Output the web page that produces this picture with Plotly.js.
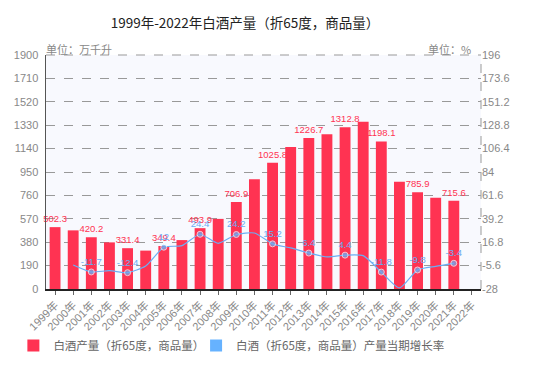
<!DOCTYPE html>
<html><head><meta charset="utf-8">
<script src="https://cdn.plot.ly/plotly-3.0.1.min.js"></script>
<style>body{margin:0;background:#fff}#c{width:553px;height:368px}</style>
</head><body><div id="c"></div>
<script>
const years = ['1999年','2000年','2001年','2002年','2003年','2004年','2005年','2006年','2007年','2008年','2009年','2010年','2011年','2012年','2013年','2014年','2015年','2016年','2017年','2018年','2019年','2020年','2021年','2022年'];
const barYears = years.slice(0, 23);
const production = [502.3,476.1,420.2,378.5,331.4,311.7,349.4,397.1,493.9,569.3,706.9,890.8,1025.8,1153.2,1226.7,1257.1,1312.8,1358.4,1198.1,871.2,785.9,740.7,715.6];
const growthYears = years.slice(1, 23);
const growth = [-5.0,-11.7,-10.4,-12.4,-6.0,12.0,13.5,24.4,15.7,24.2,25.6,15.2,11.3,6.4,2.7,4.4,3.9,-11.8,-27.0,-9.8,-6.3,-3.4];
const leftTicks = [0,190,380,570,760,950,1140,1330,1520,1710,1900];
const rightTicks = ['-28','-5.6','16.8','39.2','61.6','84','106.4','128.8','151.2','173.6','196'];

const FONT = 'Liberation Sans, Noto Sans CJK SC, sans-serif';
const CJK = 'Noto Sans CJK SC, sans-serif';
const RED = '#ff3352', BLUE = '#6aaef5';

const barText = production.map((v,i)=> i%2===0 ? String(v) : '');
const lineText = growth.map((v,i)=> i%2===1 ? String(v) : '');
const lineMarker = growth.map((v,i)=> i%2===1 ? 6 : 0);

const traces = [
  {type:'bar', x:barYears, y:production, name:'白酒产量（折65度，商品量）', showlegend:false,
   marker:{color:RED}, text:barText, textposition:'outside', constraintext:'none', cliponaxis:false,
   textfont:{color:RED, size:9.5, family:FONT}, hoverinfo:'x+y'},
  {type:'scatter', mode:'lines+markers+text', x:growthYears, y:growth, yaxis:'y2', showlegend:false,
   line:{color:BLUE, width:1.2, shape:'spline', smoothing:0.6},
   marker:{color:BLUE, size:lineMarker}, text:lineText, textposition:'top center', cliponaxis:false,
   textfont:{color:BLUE, size:9.5, family:FONT}, name:'白酒（折65度，商品量）产量当期增长率'},
  {type:'bar', x:[null], y:[null], name:'白酒产量（折65度，商品量）', marker:{color:RED}, legend:'legend'},
  {type:'bar', x:[null], y:[null], name:'白酒（折65度，商品量）产量当期增长率', marker:{color:'#66b2ff'}, legend:'legend2'}
];

const legBase = {orientation:'h', xanchor:'left', yref:'container', y:1-331/368, yanchor:'top',
          font:{size:11.5, color:'#666', family:CJK}, itemwidth:30, tracegroupgap:0, bgcolor:'rgba(0,0,0,0)'};

const layout = {
  width:553, height:368,
  margin:{l:46, r:72, t:55, b:79},
  paper_bgcolor:'#fff', plot_bgcolor:'#f8f9fe',
  font:{family:FONT, color:'#888', size:11},
  title:{text:'1999年-2022年白酒产量（折65度，商品量）', x:245/553, xanchor:'center', xref:'container',
         yref:'container', y:1-23/368, yanchor:'middle',
         font:{size:13.5, color:'#222', family:CJK}},
  bargap:0.4,
  showlegend:true,
  legend:Object.assign({}, legBase, {x:-0.075}),
  legend2:Object.assign({}, legBase, {x:0.345}),
  xaxis:{type:'category', categoryorder:'array', categoryarray:years, range:[-0.5,23.5], automargin:false,
         tickangle:-45, ticks:'outside', ticklen:4, tickcolor:'#666', showline:true, linecolor:'#222', linewidth:1.5,
         showgrid:false, tickfont:{size:11, color:'#888'}, fixedrange:true},
  yaxis:{range:[0,1900], tickvals:leftTicks, ticktext:leftTicks.map(String), showline:true, linecolor:'#555', linewidth:1.5,
         showgrid:true, gridcolor:'#999', griddash:'dash', gridwidth:1, zeroline:false, ticks:'', ticklabelstandoff:4,
         automargin:false, tickfont:{size:11, color:'#888'}},
  yaxis2:{overlaying:'y', side:'right', range:[-28,196], tickvals:[-28,-5.6,16.8,39.2,61.6,84,106.4,128.8,151.2,173.6,196],
          ticktext:rightTicks, showgrid:false, zeroline:false, showline:false, ticks:'', automargin:false,
          tickfont:{size:11, color:'#888'}},
  shapes:[
    {type:'line', xref:'paper', yref:'paper', x0:1, x1:1, y0:0, y1:1, line:{color:'#aaa', width:1.2, dash:'dash'}},
    {type:'line', xref:'paper', yref:'paper', x0:0, x1:1, y0:1, y1:1, line:{color:'#999', width:1, dash:'dash'}}
  ],
  annotations:[
    {text:'单位：万千升', xref:'paper', yref:'paper', x:0, y:1, xanchor:'left', yanchor:'bottom', showarrow:false,
     font:{size:11, color:'#888', family:CJK}, yshift:-4, xshift:-2},
    {text:'单位：%', xref:'paper', yref:'paper', x:1, y:1, xanchor:'right', yanchor:'bottom', showarrow:false,
     font:{size:11, color:'#888', family:CJK}, yshift:-4, xshift:-8}
  ]
};
Plotly.newPlot('c', traces, layout, {displayModeBar:false, staticPlot:true});
</script></body></html>
